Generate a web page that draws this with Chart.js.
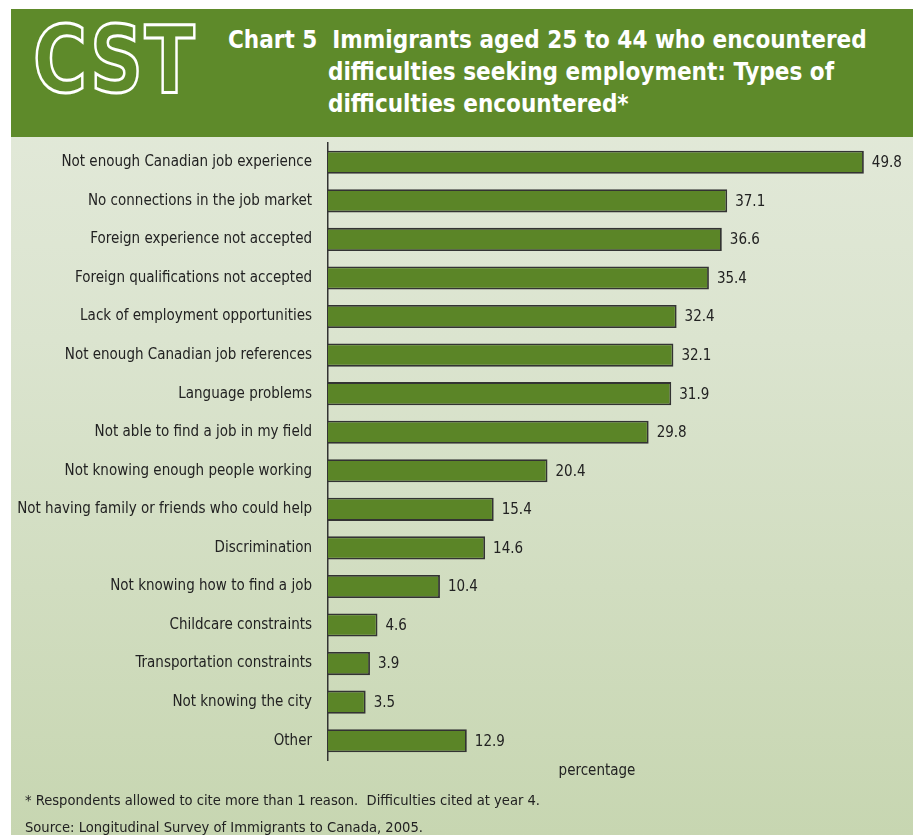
<!DOCTYPE html>
<html>
<head>
<meta charset="utf-8">
<script src="https://cdn.jsdelivr.net/npm/chart.js@4/dist/chart.umd.min.js"></script>
<style>
  body { margin: 0; background: #fff; width: 913px; height: 835px; overflow: hidden; }
  #panel { position: absolute; left: 11px; top: 9px; width: 902px; height: 826px;
           background: linear-gradient(#e5ebdd 0%, #dbe4cf 40%, #c7d6b1 100%); }
  #header { position: absolute; left: 0; top: 0; width: 902px; height: 128px; background: #5e8a2a; }
  #logo { position: absolute; left: 22px; top: -2px; font-family: "DejaVu Sans"; font-weight: bold;
          font-size: 92px; color: #5e8a2a; -webkit-text-stroke: 3px #fff;
          transform: scale(0.8, 1); transform-origin: left top; letter-spacing: 2px; }
  #title { position: absolute; left: 217px; top: 15px; color: #fff; font-family: "DejaVu Sans Condensed";
           font-weight: bold; font-size: 24px; line-height: 32px; white-space: nowrap; }
  #title .ind { padding-left: 100px; display: block; }
  #chartbox { position: absolute; left: 0; top: 128px; width: 902px; height: 698px; }
  .note { position: absolute; left: 14px; font-family: "DejaVu Sans Condensed"; font-size: 14.6px; color: #222; }
</style>
</head>
<body>
<div id="panel">
  <div id="header">
    <div id="logo">CST</div>
    <div id="title">Chart 5&nbsp; Immigrants aged 25 to 44 who encountered<span class="ind">difficulties seeking employment: Types of</span><span class="ind">difficulties encountered*</span></div>
  </div>
  <div id="chartbox"><canvas id="chart" width="902" height="698"></canvas></div>
  <div class="note" style="top:782px">* Respondents allowed to cite more than 1 reason.&nbsp; Difficulties cited at year 4.</div>
  <div class="note" style="top:809px">Source: Longitudinal Survey of Immigrants to Canada, 2005.</div>
</div>
<script>
// categories and values
var difficulties = [
  "Not enough Canadian job experience",
  "No connections in the job market",
  "Foreign experience not accepted",
  "Foreign qualifications not accepted",
  "Lack of employment opportunities",
  "Not enough Canadian job references",
  "Language problems",
  "Not able to find a job in my field",
  "Not knowing enough people working",
  "Not having family or friends who could help",
  "Discrimination",
  "Not knowing how to find a job",
  "Childcare constraints",
  "Transportation constraints",
  "Not knowing the city",
  "Other"
];
var percentages = [49.8, 37.1, 36.6, 35.4, 32.4, 32.1, 31.9, 29.8, 20.4, 15.4, 14.6, 10.4, 4.6, 3.9, 3.5, 12.9];

var labelFont = "DejaVu Sans Condensed";

// writes the value just past the end of each bar
var valueLabels = {
  id: 'valueLabels',
  afterDatasetsDraw: function(chart) {
    var ctx = chart.ctx;
    var meta = chart.getDatasetMeta(0);
    ctx.save();
    ctx.font = "15px '" + labelFont + "'";
    ctx.fillStyle = "#222";
    ctx.textBaseline = "middle";
    meta.data.forEach(function(bar, i) {
      ctx.fillText(percentages[i].toFixed(1), bar.x + 8, bar.y + 1);
    });
    ctx.restore();
  }
};

new Chart(document.getElementById("chart"), {
  type: 'bar',
  data: {
    labels: difficulties,
    datasets: [{
      label: "percentage",
      data: percentages,
      backgroundColor: "#5b8527",
      borderColor: "#333",
      borderWidth: 1.8,
      borderSkipped: 'left',
      barPercentage: 0.6,
      categoryPercentage: 1
    }]
  },
  options: {
    indexAxis: 'y',
    responsive: false,
    animation: false,
    layout: { padding: { left: 0, right: 47, top: 6, bottom: 35 } },
    plugins: { legend: { display: false }, tooltip: { enabled: false } },
    scales: {
      x: {
        min: 0, max: 50,
        grid: { display: false, drawTicks: false },
        border: { display: false },
        ticks: { display: false },
        title: { display: true, text: "percentage", color: "#222",
                 font: { family: labelFont, size: 15 }, padding: { bottom: 20 } },
        afterFit: function(scale) { scale.height = 40; scale.paddingLeft = 0; scale.paddingRight = 0; }
      },
      y: {
        grid: { display: false, drawTicks: false },
        border: { display: true, color: "#333", width: 1.5 },
        ticks: { color: "#222", padding: 16, font: { family: labelFont, size: 15 } },
        afterFit: function(scale) { scale.width = 317; scale.paddingTop = 0; scale.paddingBottom = 0; }
      }
    }
  },
  plugins: [valueLabels]
});
</script>
</body>
</html>
